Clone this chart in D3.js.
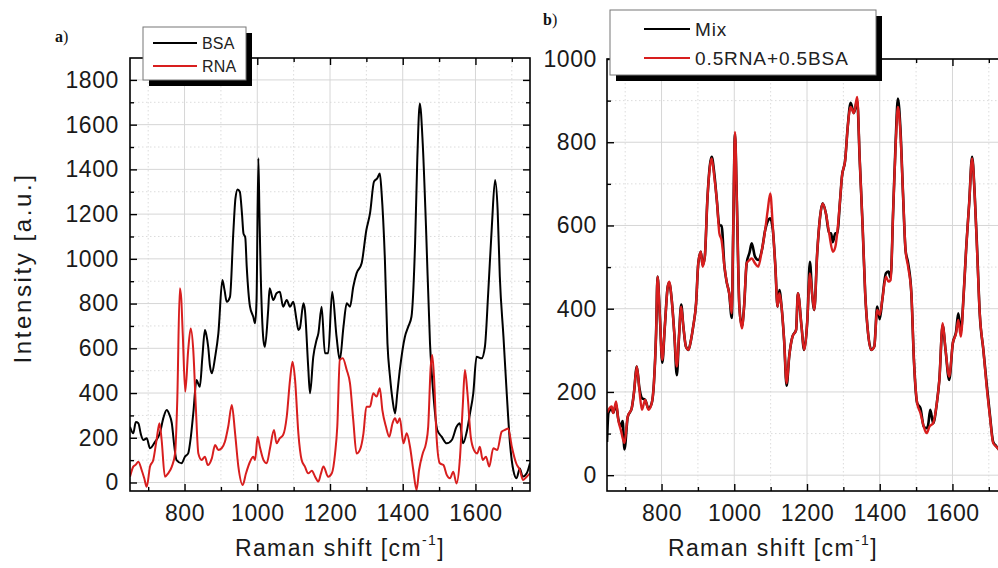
<!DOCTYPE html>
<html>
<head>
<meta charset="utf-8">
<script src="https://cdn.jsdelivr.net/npm/d3@7"></script>
<style>
  html, body { margin: 0; padding: 0; background: #fff; }
  svg { display: block; font-family: "Liberation Sans", Arial, sans-serif; }
  .tick text { fill: #1a1a1a; }
</style>
</head>
<body>
<svg id="chart" width="998" height="568"></svg>
<script>
// ---------- data: [Raman shift (cm-1), intensity (a.u.)] ----------
const bsa = [
  [650,249],[659,220],[666,270],[673,265],[680,215],[687,190],[696,198],[705,153],[719,182],[732,220],
  [742,290],[751,324],[758,305],[765,265],[772,160],[778,100],[792,86],[801,115],[810,130],[817,200],
  [824,309],[833,458],[838,440],[842,428],[849,560],[856,682],[860,660],[865,607],[870,520],[875,488],
  [884,560],[893,667],[904,905],[910,860],[916,808],[925,830],[934,1114],[940,1270],[946,1310],[952,1300],
  [958,1200],[962,1114],[967,1095],[971,965],[980,786],[989,741],[994,712],[998,816],[1003,1450],[1006,1200],
  [1009,965],[1017,637],[1021,607],[1030,771],[1034,868],[1044,816],[1053,846],[1062,853],[1071,786],[1081,816],
  [1090,786],[1099,808],[1108,726],[1113,682],[1117,689],[1127,801],[1131,771],[1140,518],[1145,399],[1154,562],
  [1163,637],[1168,667],[1177,786],[1186,578],[1195,578],[1206,853],[1218,652],[1227,548],[1237,696],[1246,801],
  [1255,786],[1264,875],[1273,935],[1287,980],[1300,1129],[1310,1203],[1321,1345],[1330,1360],[1337,1382],[1342,1293],
  [1351,995],[1358,622],[1365,473],[1372,369],[1379,309],[1385,399],[1392,503],[1406,652],[1415,696],[1424,741],
  [1434,1069],[1440,1441],[1447,1695],[1455,1516],[1464,1143],[1475,622],[1484,399],[1495,235],[1507,205],[1521,175],
  [1535,190],[1548,249],[1557,265],[1566,175],[1576,227],[1585,309],[1594,399],[1603,562],[1617,555],[1626,607],
  [1635,846],[1645,1143],[1654,1352],[1661,1218],[1667,920],[1677,652],[1686,399],[1695,175],[1704,56],[1713,19],
  [1722,63],[1730,26],[1741,41],[1750,86]
];

const rna = [
  [650,26],[659,71],[666,80],[673,93],[682,56],[689,20],[696,-19],[705,71],[714,101],[723,190],
  [731,265],[737,190],[746,26],[755,41],[765,71],[774,130],[780,369],[787,868],[791,820],[795,667],
  [802,406],[810,592],[817,689],[824,592],[831,339],[838,130],[847,101],[856,115],[864,78],[875,108],
  [884,168],[893,145],[902,153],[911,182],[920,249],[930,346],[939,220],[948,71],[960,-11],[969,41],
  [980,93],[989,115],[994,101],[1001,205],[1007,160],[1017,101],[1026,86],[1035,153],[1046,235],[1053,175],
  [1062,198],[1071,212],[1081,294],[1090,458],[1097,540],[1104,458],[1113,220],[1122,101],[1131,71],[1140,41],
  [1150,52],[1159,26],[1168,4],[1175,40],[1182,71],[1195,26],[1205,41],[1214,130],[1220,249],[1227,548],
  [1235,555],[1246,503],[1255,443],[1264,279],[1273,130],[1282,145],[1292,220],[1300,339],[1310,339],[1319,399],
  [1328,384],[1337,421],[1344,324],[1354,249],[1363,205],[1372,265],[1379,287],[1385,265],[1392,287],[1402,175],
  [1411,220],[1420,160],[1429,56],[1438,-34],[1445,56],[1455,130],[1464,175],[1470,249],[1477,518],[1481,570],
  [1486,473],[1493,205],[1502,86],[1512,78],[1521,34],[1530,19],[1539,48],[1548,-4],[1557,101],[1565,339],
  [1571,503],[1578,399],[1587,205],[1596,145],[1605,130],[1612,160],[1620,101],[1629,115],[1638,71],[1649,153],
  [1660,145],[1672,227],[1681,235],[1690,242],[1700,160],[1712,86],[1722,56],[1731,11],[1741,26],[1750,41]
];

const mix = [
  [650,80],[654,150],[663,160],[667,150],[675,170],[681,135],[688,118],[693,130],[698,62],[707,140],
  [718,161],[724,197],[732,261],[739,210],[746,185],[755,181],[764,160],[773,173],[779,221],[785,341],
  [789,477],[795,389],[802,270],[809,357],[817,453],[821,462],[828,421],[835,341],[842,240],[848,333],
  [854,410],[860,357],[867,309],[874,301],[881,325],[887,357],[895,413],[901,509],[908,537],[913,505],
  [919,525],[926,661],[933,745],[938,765],[945,725],[952,661],[959,600],[965,600],[973,501],[979,465],
  [986,437],[993,378],[997,581],[1002,820],[1007,661],[1014,405],[1021,358],[1027,405],[1034,509],[1042,535],
  [1048,557],[1057,525],[1066,517],[1076,541],[1085,589],[1092,610],[1099,617],[1106,590],[1113,501],[1119,405],
  [1124,445],[1130,405],[1137,325],[1144,215],[1151,285],[1160,333],[1170,349],[1175,437],[1185,357],[1192,301],
  [1201,373],[1208,513],[1214,437],[1220,397],[1228,533],[1236,621],[1243,653],[1252,629],[1261,581],[1266,581],
  [1271,560],[1278,581],[1283,581],[1291,661],[1296,717],[1305,757],[1312,837],[1320,895],[1329,870],[1338,900],
  [1345,757],[1353,597],[1360,437],[1368,341],[1377,301],[1385,309],[1393,405],[1400,375],[1407,421],[1417,485],
  [1424,489],[1430,475],[1437,637],[1444,805],[1450,905],[1457,831],[1464,677],[1471,541],[1478,510],[1487,437],
  [1494,277],[1503,173],[1512,161],[1521,117],[1529,113],[1533,120],[1539,157],[1547,125],[1557,173],[1564,229],
  [1573,360],[1581,301],[1591,229],[1601,317],[1610,345],[1616,389],[1623,345],[1631,437],[1638,549],[1646,653],
  [1654,765],[1661,677],[1668,540],[1675,389],[1685,301],[1694,220],[1703,145],[1712,80],[1720,70],[1728,61],
  [1750,40]
];

const sum = [
  [650,150],[654,157],[663,165],[667,149],[675,177],[681,133],[688,109],[698,77],[707,141],[718,161],
  [724,197],[732,261],[739,205],[746,157],[755,181],[764,157],[773,173],[779,221],[785,341],[789,477],
  [795,389],[802,277],[809,357],[817,453],[821,465],[828,421],[835,341],[842,261],[848,333],[854,405],
  [860,357],[867,309],[874,301],[881,325],[887,357],[895,413],[901,509],[908,537],[913,501],[919,525],
  [926,661],[933,741],[938,761],[945,717],[952,661],[959,581],[965,565],[973,501],[979,465],[986,437],
  [993,389],[997,581],[1002,825],[1007,661],[1014,405],[1021,353],[1027,405],[1034,509],[1042,517],[1048,521],
  [1057,509],[1066,501],[1076,541],[1085,589],[1092,637],[1099,677],[1106,597],[1113,501],[1119,405],[1124,437],
  [1130,405],[1137,325],[1144,221],[1151,285],[1160,333],[1170,349],[1175,437],[1185,357],[1192,301],[1201,373],
  [1208,485],[1214,437],[1220,397],[1228,533],[1236,621],[1243,653],[1252,629],[1261,581],[1271,537],[1278,549],
  [1283,581],[1291,661],[1296,717],[1305,757],[1312,837],[1320,885],[1329,870],[1338,909],[1345,757],[1353,597],
  [1360,437],[1368,341],[1377,301],[1385,309],[1393,397],[1400,385],[1407,421],[1417,477],[1424,465],[1430,469],
  [1437,637],[1444,797],[1450,885],[1457,821],[1464,677],[1471,541],[1478,501],[1487,437],[1494,277],[1503,173],
  [1512,149],[1521,117],[1529,101],[1537,117],[1547,125],[1557,173],[1564,229],[1573,365],[1581,301],[1591,237],
  [1601,317],[1610,341],[1616,373],[1623,333],[1631,437],[1638,549],[1646,653],[1654,761],[1661,677],[1668,533],
  [1675,389],[1685,301],[1694,213],[1703,141],[1712,77],[1720,69],[1728,61],[1750,40]
];

// ---------- ticks ----------
const xMajor = [800, 1000, 1200, 1400, 1600];
const xMinor = [700, 900, 1100, 1300, 1500, 1700];
const yMajorA = [0, 200, 400, 600, 800, 1000, 1200, 1400, 1600, 1800];
const yMinorA = [100, 300, 500, 700, 900, 1100, 1300, 1500, 1700];
const yMajorB = [0, 200, 400, 600, 800, 1000];
const yMinorB = [100, 300, 500, 700, 900];

const RED = "#d81e1e";
const svg = d3.select("#chart");

function drawPanel(p) {
  const x = d3.scaleLinear().domain([650, 1750]).range([p.left, p.right]);
  const y = d3.scaleLinear().domain(p.yDomain).range([p.bottom, p.top]);
  const g = svg.append("g");

  // clip
  g.append("clipPath").attr("id", p.id + "clip")
    .append("rect").attr("x", p.left).attr("y", p.top)
    .attr("width", p.right - p.left).attr("height", p.bottom - p.top);

  // grid
  const grid = g.append("g");
  grid.selectAll(".gx").data(xMinor).join("line")
    .attr("x1", d => x(d)).attr("x2", d => x(d)).attr("y1", p.top).attr("y2", p.bottom)
    .attr("stroke", "#dcdcdc").attr("stroke-dasharray", "1.5,2.5");
  grid.selectAll(".gy").data(p.yMinor).join("line")
    .attr("y1", d => y(d)).attr("y2", d => y(d)).attr("x1", p.left).attr("x2", p.right)
    .attr("stroke", "#dcdcdc").attr("stroke-dasharray", "1.5,2.5");
  grid.selectAll(".Gx").data(xMajor).join("line")
    .attr("x1", d => x(d)).attr("x2", d => x(d)).attr("y1", p.top).attr("y2", p.bottom)
    .attr("stroke", "#d6d6d6");
  grid.selectAll(".Gy").data(p.yMajor).join("line")
    .attr("y1", d => y(d)).attr("y2", d => y(d)).attr("x1", p.left).attr("x2", p.right)
    .attr("stroke", "#d6d6d6");

  // curves
  const line = d3.line().x(d => x(d[0])).y(d => y(d[1])).curve(d3.curveMonotoneX);
  const curves = g.append("g").attr("clip-path", `url(#${p.id}clip)`);
  p.series.forEach(s => {
    curves.append("path").datum(s.data)
      .attr("fill", "none").attr("stroke", s.color).attr("stroke-width", s.width)
      .attr("stroke-linejoin", "round").attr("d", line);
  });

  // axes (inward ticks on all sides)
  const axisFont = sel => sel.selectAll("text").attr("font-size", 23).attr("letter-spacing", 0.6);
  const bottomAx = g.append("g").attr("transform", `translate(0,${p.bottom})`)
    .call(d3.axisBottom(x).tickValues(xMajor).tickSize(-7).tickSizeOuter(0).tickPadding(14).tickFormat(d3.format("d")))
    .call(axisFont);
  g.append("g").attr("transform", `translate(0,${p.bottom})`)
    .call(d3.axisBottom(x).tickValues(xMinor).tickSize(-4).tickSizeOuter(0).tickFormat(""));
  g.append("g").attr("transform", `translate(0,${p.top})`)
    .call(d3.axisTop(x).tickValues(xMajor).tickSize(-7).tickSizeOuter(0).tickFormat(""));
  g.append("g").attr("transform", `translate(0,${p.top})`)
    .call(d3.axisTop(x).tickValues(xMinor).tickSize(-4).tickSizeOuter(0).tickFormat(""));
  g.append("g").attr("transform", `translate(${p.left},0)`)
    .call(d3.axisLeft(y).tickValues(p.yMajor).tickSize(-7).tickSizeOuter(0).tickPadding(p.yPad).tickFormat(d3.format("d")))
    .call(axisFont);
  g.append("g").attr("transform", `translate(${p.left},0)`)
    .call(d3.axisLeft(y).tickValues(p.yMinor).tickSize(-4).tickSizeOuter(0).tickFormat(""));
  g.append("g").attr("transform", `translate(${p.right},0)`)
    .call(d3.axisRight(y).tickValues(p.yMajor).tickSize(-7).tickSizeOuter(0).tickFormat(""));
  g.append("g").attr("transform", `translate(${p.right},0)`)
    .call(d3.axisRight(y).tickValues(p.yMinor).tickSize(-4).tickSizeOuter(0).tickFormat(""));
  g.selectAll(".domain").remove();
  g.selectAll(".tick line").attr("stroke", "#000").attr("stroke-width", 1.4);

  // frame
  g.append("rect").attr("x", p.left).attr("y", p.top)
    .attr("width", p.right - p.left).attr("height", p.bottom - p.top)
    .attr("fill", "none").attr("stroke", "#000").attr("stroke-width", 1.6);

  // x title
  const xt = g.append("text").attr("x", p.xTitleX).attr("y", 556).attr("text-anchor", "middle")
    .attr("font-size", 23).attr("letter-spacing", 1.4).attr("fill", "#1a1a1a");
  xt.append("tspan").text("Raman shift [cm");
  xt.append("tspan").attr("font-size", 14).attr("dy", -11).text("-1");
  xt.append("tspan").attr("dy", 11).text("]");

  // legend
  const L = p.legend;
  const lg = g.append("g");
  lg.append("rect").attr("x", L.x + 6).attr("y", L.y + 6).attr("width", L.w).attr("height", L.h).attr("fill", "#000");
  lg.append("rect").attr("x", L.x).attr("y", L.y).attr("width", L.w).attr("height", L.h)
    .attr("fill", "#fff").attr("stroke", "#777").attr("stroke-width", 1);
  p.series.forEach((s, i) => {
    const ly = L.y + L.row0 + i * L.step;
    lg.append("line").attr("x1", L.x + L.l1).attr("x2", L.x + L.l2).attr("y1", ly).attr("y2", ly)
      .attr("stroke", s.color).attr("stroke-width", 2.2);
    lg.append("text").attr("x", L.x + L.l2 + 5).attr("y", ly).attr("dy", "0.36em")
      .attr("font-size", L.fs).attr("letter-spacing", L.ls).attr("fill", "#222").text(s.name);
  });

  // panel label
  const pl = g.append("text").attr("x", p.label[0]).attr("y", p.label[1])
    .attr("font-family", "'Liberation Serif', 'Times New Roman', serif").attr("font-size", 16).attr("fill", "#111");
  pl.append("tspan").attr("font-weight", "bold").text(p.id);
  pl.append("tspan").text(")");
}

drawPanel({
  id: "a", left: 130, right: 530, top: 58, bottom: 491, yDomain: [-38, 1898],
  yMajor: yMajorA, yMinor: yMinorA, yPad: 11, xTitleX: 340,
  series: [
    { name: "BSA", data: bsa, color: "#000", width: 2 },
    { name: "RNA", data: rna, color: RED, width: 2 }
  ],
  legend: { x: 143, y: 27, w: 103, h: 53, row0: 16, step: 23, l1: 10, l2: 54, fs: 16, ls: 0.2 },
  label: [55, 42]
});

drawPanel({
  id: "b", left: 607, right: 1007, top: 59, bottom: 491, yDomain: [-38, 1000],
  yMajor: yMajorB, yMinor: yMinorB, yPad: 10, xTitleX: 773,
  series: [
    { name: "Mix", data: mix, color: "#000", width: 2.6 },
    { name: "0.5RNA+0.5BSA", data: sum, color: RED, width: 2.4 }
  ],
  legend: { x: 610, y: 10, w: 266, h: 65, row0: 19, step: 29, l1: 34, l2: 80, fs: 19, ls: 0.9 },
  label: [543, 25]
});

// y title (panel a only)
svg.append("text").attr("transform", "translate(31,268) rotate(-90)")
  .attr("text-anchor", "middle").attr("font-size", 24).attr("letter-spacing", 2.6)
  .attr("fill", "#1a1a1a").text("Intensity [a.u.]");
</script>
</body>
</html>
